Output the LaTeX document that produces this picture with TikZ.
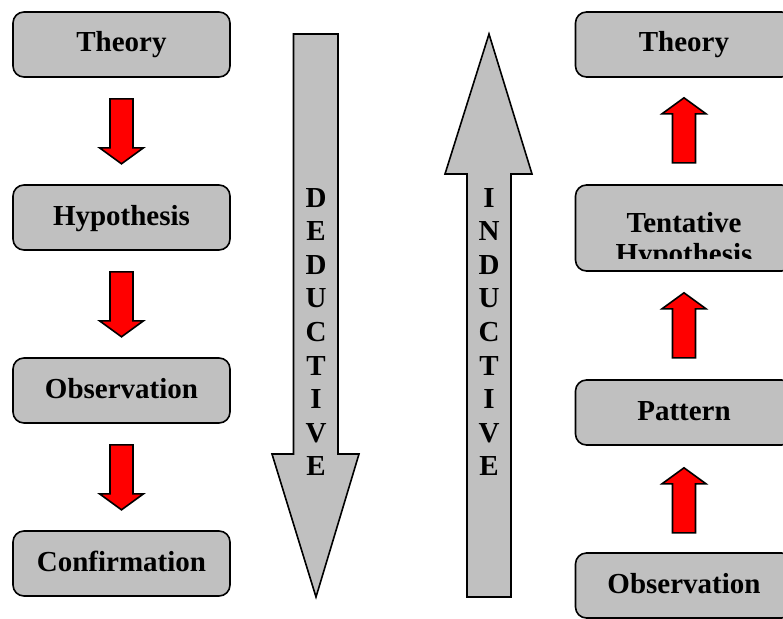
\documentclass[tikz,border=0pt]{standalone}
\usepackage{fontspec}
\setmainfont{Liberation Serif}
\usetikzlibrary{calc}
\definecolor{boxgray}{RGB}{192,192,192}
\begin{document}
\begin{tikzpicture}[x=1pt,y=-1pt,
  stagebox/.style={draw=black, line width=1.6pt, fill=boxgray, rounded corners=11pt,
    minimum width=217pt, minimum height=65pt, inner sep=0pt,
    text height=20pt, text depth=5pt, font=\fontsize{29}{31}\selectfont\bfseries},
  boxlabel/.style={inner sep=0pt, align=center, font=\fontsize{29}{31}\selectfont\bfseries},
  redblock/.style={draw=black, line width=1.6pt, fill=red, line join=miter},
  bigblock/.style={draw=black, line width=1.6pt, fill=boxgray, line join=miter},
  spine/.style={align=center, inner sep=0pt, font=\fontsize{29}{33.6}\selectfont\bfseries},
  pics/blockdown/.style={code={
    \draw[redblock] (-11.5,0) -- (11.5,0) -- (11.5,49) -- (22,49) -- (0,65)
      -- (-22,49) -- (-11.5,49) -- cycle;}},
  pics/blockup/.style={code={
    \draw[redblock] (0,0) -- (22,16) -- (11.5,16) -- (11.5,65) -- (-11.5,65)
      -- (-11.5,16) -- (-22,16) -- cycle;}},
]
\useasboundingbox (0,0) rectangle (783,618);
\clip (0,0) rectangle (783,618);

% deductive column
\node[stagebox] (theoryD) at (121.5,44.5)  {Theory};
\node[stagebox] (hypD)    at (121.5,217.5) {Hypothesis};
\node[stagebox] (obsD)    at (121.5,390.5) {Observation};
\node[stagebox] (confD)   at (121.5,563.5) {Confirmation};
\pic at ($(theoryD.south)+(0,21)$) {blockdown};
\pic at ($(hypD.south)+(0,21)$)    {blockdown};
\pic at ($(obsD.south)+(0,21)$)    {blockdown};

% large downward arrow
\draw[bigblock] (293.5,34) -- (338,34) -- (338,454) -- (359,454) -- (316,597)
  -- (272,454) -- (293.5,454) -- cycle;
\node[spine] (dedword) at (316,332) {D\\E\\D\\U\\C\\T\\I\\V\\E};

% large upward arrow
\draw[bigblock] (489,34) -- (532,174) -- (511,174) -- (511,597) -- (467,597)
  -- (467,174) -- (445,174) -- cycle;
\node[spine] (indword) at (489,332) {I\\N\\D\\U\\C\\T\\I\\V\\E};

% inductive column
\node[stagebox] (theoryI) at (684,44.5)  {Theory};
\node[stagebox, minimum height=86pt] (tentI) at (684,228) {};
\begin{scope}
  \clip (560,186) rectangle (800,258);
  \node[boxlabel] (tentText) at (684,241.5) {Tentative\\Hypothesis};
\end{scope}
\node[stagebox] (patI)    at (684,412.5) {Pattern};
\node[stagebox] (obsI)    at (684,585.5) {Observation};
\pic at ($(theoryI.south)+(0,20)$) {blockup};
\pic at ($(tentI.south)+(0,21)$)   {blockup};
\pic at ($(patI.south)+(0,22)$)    {blockup};
\end{tikzpicture}
\end{document}
